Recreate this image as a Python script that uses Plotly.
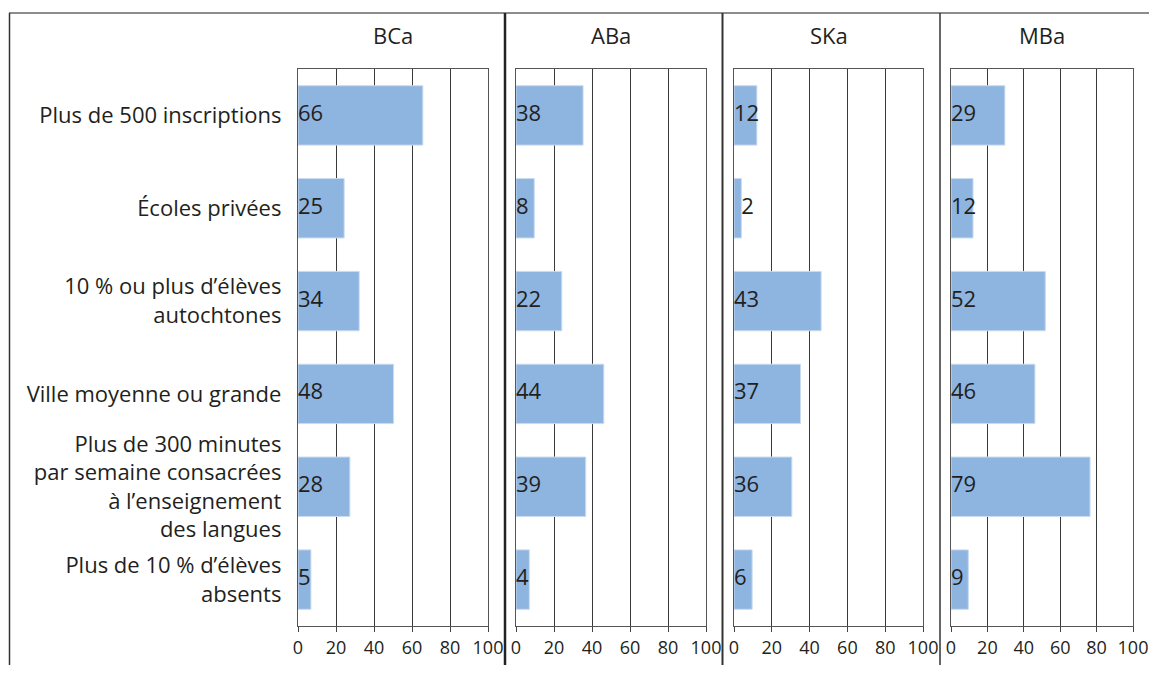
import plotly.graph_objects as go

# ---- data ----
categories = [
    "Plus de 500 inscriptions",
    "Écoles privées",
    "10 % ou plus d’élèves<br>autochtones",
    "Ville moyenne ou grande",
    "Plus de 300 minutes<br>par semaine consacrées<br>à l’enseignement<br>des langues",
    "Plus de 10 % d’élèves<br>absents",
]
regions = ["BCa", "ABa", "SKa", "MBa"]

# printed values
bca_labels = [66, 25, 34, 48, 28, 5]
aba_labels = [38, 8, 22, 44, 39, 4]
ska_labels = [12, 2, 43, 37, 36, 6]
mba_labels = [29, 12, 52, 46, 79, 9]

# bar lengths as drawn
bca_bars = [65.7, 24.3, 32.2, 50.3, 27.3, 6.8]
aba_bars = [35.3, 9.6, 24.1, 46.2, 36.7, 7.0]
ska_bars = [12.1, 3.9, 46.1, 35.2, 30.6, 9.6]
mba_bars = [29.6, 12.1, 51.8, 46.1, 76.4, 9.5]

x_ticks = [0, 20, 40, 60, 80, 100]

# ---- layout (screen pixel targets; page body has an 8px margin all round) ----
OFF = 8
W, H = 1157 - 2 * OFF, 673 - 2 * OFF


def px(x):
    return (x - OFF) / W


def py(y):
    return 1 - (y - OFF) / H


panel_px = [(298, 488), (516, 706), (734, 923), (951, 1133)]
y_top, y_bot = 69, 626

bars = [bca_bars, aba_bars, ska_bars, mba_bars]
labels = [bca_labels, aba_labels, ska_labels, mba_labels]

BAR_COLOR = "#8EB4E0"
TEXT = "#231F20"
FONT = "Open Sans"

fig = go.Figure()
layout = dict(
    width=W, height=H,
    margin=dict(l=0, r=0, t=0, b=0, autoexpand=False),
    paper_bgcolor="white", plot_bgcolor="white",
    showlegend=False, bargap=0.36,
    font=dict(family=FONT, color=TEXT, size=20),
)

annotations = []
for i, (reg, (x0, x1)) in enumerate(zip(regions, panel_px)):
    n = "" if i == 0 else str(i + 1)
    xa, ya = "x" + n, "y" + n
    fig.add_trace(go.Bar(
        y=categories, x=bars[i], orientation="h",
        marker=dict(color=BAR_COLOR, line=dict(color="#C9DBF0", width=1)),
        xaxis=xa, yaxis=ya, hoverinfo="skip",
    ))
    # labels sit at the base of the bar, or just past very thin bars
    label_x = [b if b < 5 else 0 for b in bars[i]]
    fig.add_trace(go.Scatter(
        y=categories, x=label_x, mode="text",
        text=[str(v) for v in labels[i]], textposition="middle right",
        textfont=dict(family=FONT, size=22, color=TEXT),
        xaxis=xa, yaxis=ya, hoverinfo="skip",
    ))
    layout["xaxis" + n] = dict(
        domain=[px(x0), px(x1)], anchor=ya, range=[0, 100],
        tickvals=x_ticks, ticktext=[str(t) for t in x_ticks],
        showgrid=True, gridcolor="#3A3A3A", gridwidth=1.2,
        showline=True, linecolor="#555555", linewidth=1.3, mirror=True,
        ticks="outside", ticklen=5, tickcolor="#444444", tickwidth=1.2,
        tickfont=dict(family=FONT, size=18, color=TEXT),
        ticklabeloverflow="allow",
        zeroline=False, fixedrange=True, automargin=False,
    )
    layout["yaxis" + n] = dict(
        domain=[py(y_bot), py(y_top)], anchor=xa,
        type="category", categoryorder="array", categoryarray=categories,
        autorange="reversed",
        showline=True, linecolor="#555555", linewidth=1.3, mirror=True,
        showgrid=False, ticks="",
        showticklabels=(i == 0), ticklabelstandoff=11,
        tickfont=dict(family=FONT, size=22, color=TEXT),
        fixedrange=True, automargin=False,
    )
    annotations.append(dict(
        x=px((x0 + x1) / 2), y=py(35), xref="paper", yref="paper",
        text=reg, showarrow=False, xanchor="center", yanchor="middle",
        font=dict(family=FONT, size=22, color=TEXT),
    ))

shapes = [
    dict(type="line", xref="paper", yref="paper", x0=px(9), x1=1, y0=py(13), y1=py(13),
         line=dict(color="#666666", width=1.5)),
    dict(type="line", xref="paper", yref="paper", x0=px(9.5), x1=px(9.5), y0=0, y1=py(13),
         line=dict(color="#333333", width=1.5)),
    dict(type="line", xref="paper", yref="paper", x0=px(505), x1=px(505), y0=0, y1=py(13),
         line=dict(color="#222222", width=2.5)),
    dict(type="line", xref="paper", yref="paper", x0=px(722.5), x1=px(722.5), y0=0, y1=py(13),
         line=dict(color="#333333", width=2)),
    dict(type="line", xref="paper", yref="paper", x0=px(940), x1=px(940), y0=0, y1=py(13),
         line=dict(color="#333333", width=1.5)),
]
layout["annotations"] = annotations
layout["shapes"] = shapes
fig.update_layout(**layout)

fig.write_html("out.html")
